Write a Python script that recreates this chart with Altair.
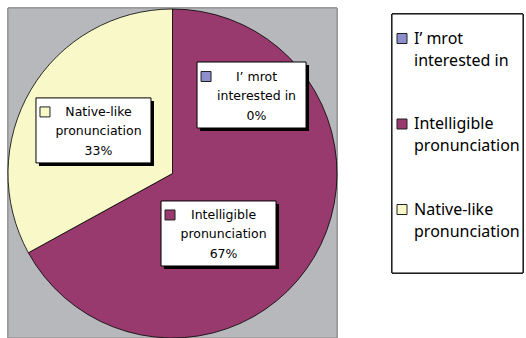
import math

import altair as alt
import pandas as pd

# ---- data -------------------------------------------------------------
categories = ["I’ mrot interested in", "Intelligible pronunciation", "Native-like pronunciation"]
label_lines = [["I’ mrot", "interested in"], ["Intelligible", "pronunciation"], ["Native-like", "pronunciation"]]
values = [0, 67, 33]
colors = ["#8E8ECC", "#983A6E", "#F9F8C8"]

# ---- layout (pixels) --------------------------------------------------
W, H = 526, 338
CX, CY, R = 172.5, 173.5, 164.5            # pie centre and radius
PLOT = dict(x=8, x2=337, y=8, y2=338)      # grey plot area
# data-label boxes: polar placement around the pie centre (deg clockwise from top, radius), size
box_layout = {
    categories[0]: dict(angle=45.2, radius=111.4, w=109, h=66),
    categories[1]: dict(angle=142.5, radius=75.6, w=115, h=65),
    categories[2]: dict(angle=298.6, radius=90.0, w=115, h=65),
}
LEG = dict(x=392, x2=523, y=14, y2=273)
LEG_ROW0, LEG_ROW_STEP, LEG_LINE = 38.5, 85.5, 22
BOX_FONT = "DejaVu Sans"
LEG_FONT = "Noto Sans"

color_scale = alt.Scale(domain=categories, range=colors)
total = sum(values)

slices = pd.DataFrame({"category": categories, "value": values, "idx": range(len(categories))})

# label boxes, their text lines and colour keys
boxes, box_text, box_keys = [], [], []
for cat, lines, v in zip(categories, label_lines, values):
    lay = box_layout[cat]
    a = math.radians(lay["angle"])
    bx = CX + lay["radius"] * math.sin(a)
    by = CY - lay["radius"] * math.cos(a)
    boxes.append(dict(category=cat, x1=bx - lay["w"] / 2, x2=bx + lay["w"] / 2,
                      y1=by - lay["h"] / 2, y2=by + lay["h"] / 2))
    rows = lines + [f"{round(100 * v / total)}%"]
    for i, t in enumerate(rows):
        box_text.append(dict(category=cat, text=t, x=bx + 5, y=by - 18.5 + 19.5 * i))
    kx = bx - lay["w"] / 2 + 4
    ky = by - 18.5
    box_keys.append(dict(category=cat, x1=kx, x2=kx + 10, y1=ky - 5, y2=ky + 5))

boxes = pd.DataFrame(boxes)
shadows = boxes.assign(x1=boxes.x1 + 3, x2=boxes.x2 + 3, y1=boxes.y1 + 3, y2=boxes.y2 + 3)
box_text = pd.DataFrame(box_text)
box_keys = pd.DataFrame(box_keys)

# legend entries
leg_keys, leg_text = [], []
for i, (cat, lines) in enumerate(zip(categories, label_lines)):
    ry = LEG_ROW0 + LEG_ROW_STEP * i
    leg_keys.append(dict(category=cat, x1=397, x2=407, y1=ry - 5, y2=ry + 5))
    for j, t in enumerate(lines):
        leg_text.append(dict(text=t, x=414, y=ry + LEG_LINE * j))
leg_keys = pd.DataFrame(leg_keys)
leg_text = pd.DataFrame(leg_text)


def px(field):
    return alt.X(f"{field}:Q", scale=None)


def py(field):
    return alt.Y(f"{field}:Q", scale=None)


plot_bg = alt.Chart(slices).mark_rect(fill="#B7B8BC", stroke="#8C8C8C", strokeWidth=1).encode(
    x=alt.value(PLOT["x"]), x2=alt.value(PLOT["x2"]),
    y=alt.value(PLOT["y"]), y2=alt.value(PLOT["y2"]),
)

pie = alt.Chart(slices).mark_arc(outerRadius=R, stroke="black", strokeWidth=0.8).encode(
    theta=alt.Theta("value:Q", stack=True),
    order=alt.Order("idx:Q"),
    color=alt.Color("category:N", scale=color_scale, legend=None),
    x=alt.value(CX), y=alt.value(CY),
)

box_shadow = alt.Chart(shadows).mark_rect(fill="black").encode(
    x=px("x1"), x2=alt.X2("x2:Q"), y=py("y1"), y2=alt.Y2("y2:Q"))
box_rect = alt.Chart(boxes).mark_rect(fill="white", stroke="black", strokeWidth=1).encode(
    x=px("x1"), x2=alt.X2("x2:Q"), y=py("y1"), y2=alt.Y2("y2:Q"))
box_key = alt.Chart(box_keys).mark_rect(stroke="#222222", strokeWidth=1).encode(
    x=px("x1"), x2=alt.X2("x2:Q"), y=py("y1"), y2=alt.Y2("y2:Q"),
    color=alt.Color("category:N", scale=color_scale, legend=None))
box_label = alt.Chart(box_text).mark_text(
    font=BOX_FONT, fontSize=12.5, color="black", align="center", baseline="middle"
).encode(x=px("x"), y=py("y"), text="text:N")

legend_frame = alt.Chart(slices).mark_rect(fill="white", stroke="black", strokeWidth=1).encode(
    x=alt.value(LEG["x"]), x2=alt.value(LEG["x2"]),
    y=alt.value(LEG["y"]), y2=alt.value(LEG["y2"]),
)
legend_key = alt.Chart(leg_keys).mark_rect(stroke="#222222", strokeWidth=1).encode(
    x=px("x1"), x2=alt.X2("x2:Q"), y=py("y1"), y2=alt.Y2("y2:Q"),
    color=alt.Color("category:N", scale=color_scale, legend=None))
legend_label = alt.Chart(leg_text).mark_text(
    font=LEG_FONT, fontSize=16, color="black", align="left", baseline="middle"
).encode(x=px("x"), y=py("y"), text="text:N")

chart = alt.layer(
    plot_bg, pie, box_shadow, box_rect, box_key, box_label,
    legend_frame, legend_key, legend_label,
).properties(
    width=W, height=H, padding=0, autosize="none", background="white"
).configure_view(stroke=None)

chart.save("out.html", embed_options={"renderer": "svg", "actions": False})
